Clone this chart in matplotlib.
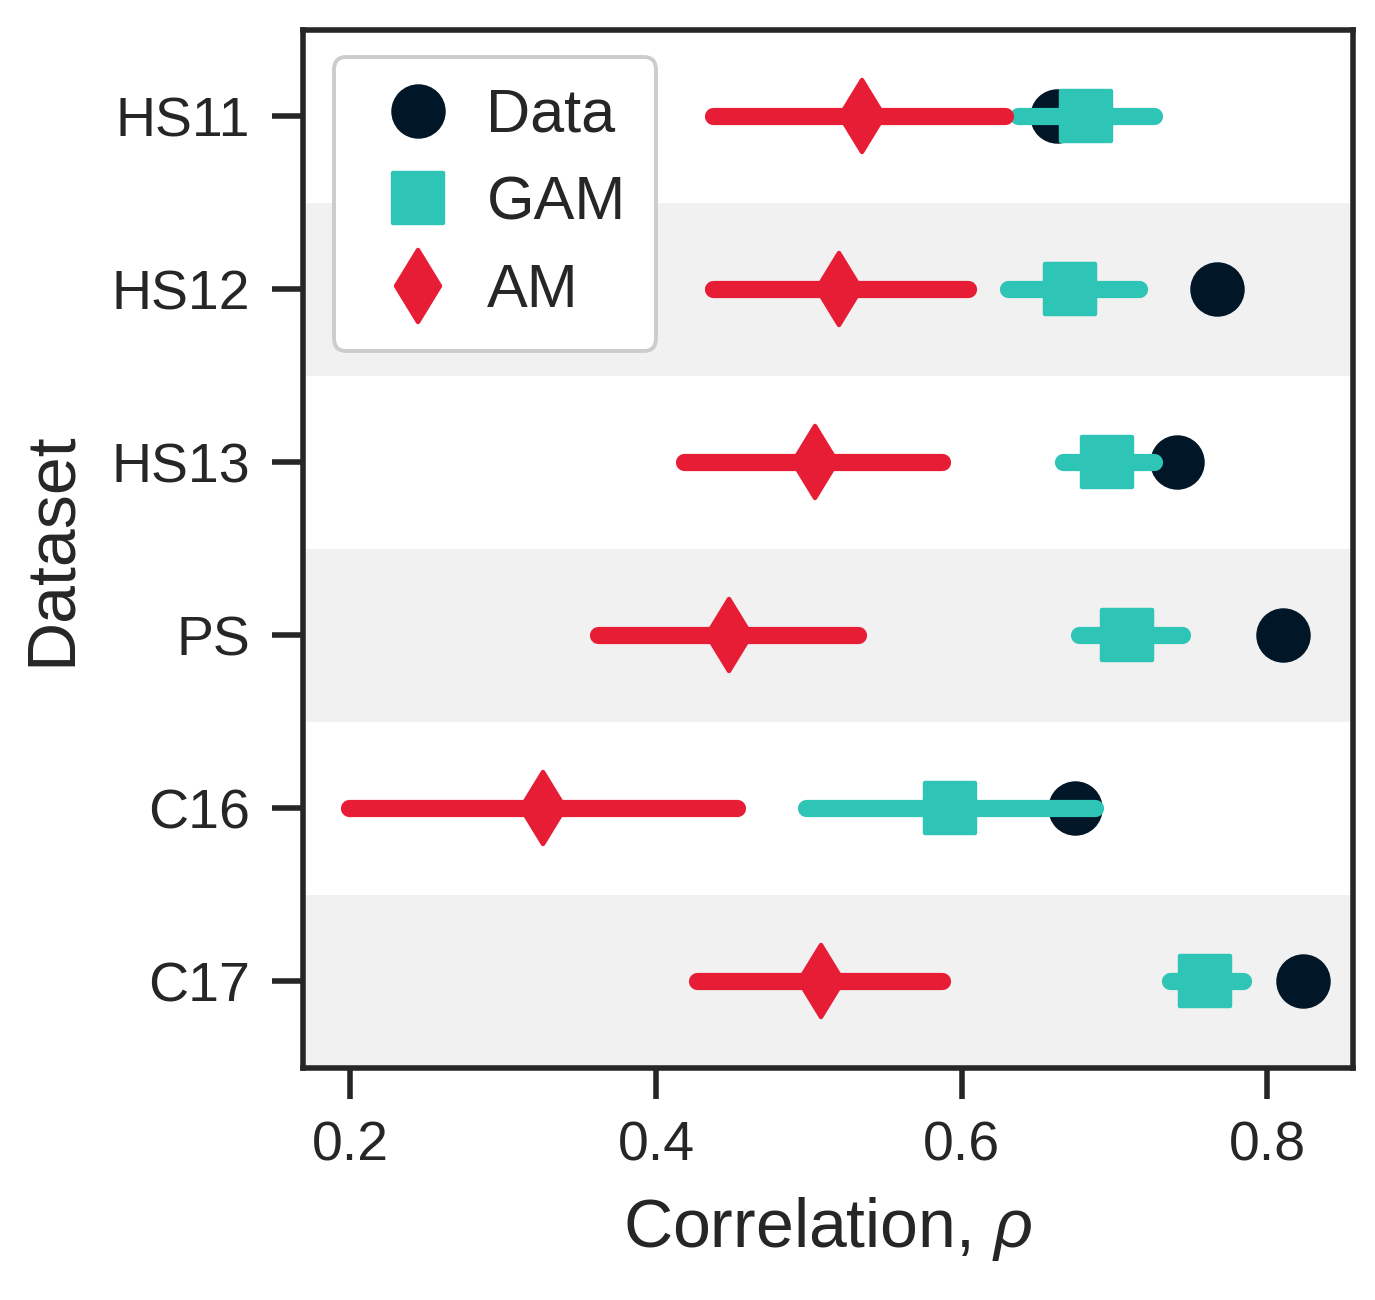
import matplotlib
matplotlib.use("Agg")
import matplotlib.pyplot as plt
from matplotlib.lines import Line2D
from matplotlib.markers import MarkerStyle
import numpy as np

datasets = ["HS11", "HS12", "HS13", "PS", "C16", "C17"]
data_rho = [0.662, 0.767, 0.741, 0.810, 0.674, 0.823]
gam_rho = [0.681, 0.671, 0.695, 0.708, 0.592, 0.759]
gam_lo = [0.637, 0.630, 0.666, 0.677, 0.498, 0.736]
gam_hi = [0.726, 0.716, 0.726, 0.744, 0.687, 0.784]
am_rho = [0.535, 0.520, 0.504, 0.448, 0.326, 0.508]
am_lo = [0.437, 0.437, 0.418, 0.362, 0.199, 0.427]
am_hi = [0.628, 0.604, 0.587, 0.532, 0.453, 0.587]
xticks = [0.2, 0.4, 0.6, 0.8]

C_DATA = "#011627"
C_GAM = "#2EC4B6"
C_AM = "#E71D36"
TXT = "#262626"

plt.rcParams["font.family"] = ["Liberation Sans", "DejaVu Sans"]
plt.rcParams["mathtext.fontset"] = "custom"
plt.rcParams["mathtext.it"] = "Liberation Sans:italic"
plt.rcParams["mathtext.rm"] = "Liberation Sans"

fig = plt.figure(figsize=(6.875, 6.5), dpi=200)
ax = fig.add_axes([0.2204, 0.1785, 0.7636, 0.7985])

y = np.arange(len(datasets))
for i in y:
    if i % 2 == 1:
        ax.axhspan(i - 0.5, i + 0.5, color="#f1f1f1", zorder=0, lw=0)

ms = 18
mew = 1.6
lw = 6.2

def mk(m):
    return MarkerStyle(m, joinstyle="round")

ax.plot(data_rho, y, ls="none", marker=mk("o"), ms=ms, mfc=C_DATA, mec=C_DATA, mew=mew, zorder=3)
for i in y:
    ax.plot([gam_lo[i], gam_hi[i]], [i, i], color=C_GAM, lw=lw,
            solid_capstyle="round", zorder=4)
    ax.plot([am_lo[i], am_hi[i]], [i, i], color=C_AM, lw=lw,
            solid_capstyle="round", zorder=4)
ax.plot(gam_rho, y, ls="none", marker=mk("s"), ms=ms, mfc=C_GAM, mec=C_GAM, mew=mew, zorder=5)
ax.plot(am_rho, y, ls="none", marker=mk("d"), ms=ms + 0.5, mfc=C_AM, mec=C_AM, mew=mew, zorder=5)

ax.set_xlim(0.169, 0.856)
ax.set_ylim(5.5, -0.5)
ax.set_yticks(y)
ax.set_yticklabels(datasets)
ax.set_xticks(xticks)
ax.set_xticklabels([f"{v:.1f}" for v in xticks])

for s in ax.spines.values():
    s.set_linewidth(2.0)
    s.set_color(TXT)
ax.tick_params(axis="both", length=11, width=2.0, color=TXT,
               labelsize=20, labelcolor=TXT, pad=8)

ax.set_xlabel(r"Correlation, $\rho$", fontsize=24.5, color=TXT, labelpad=8)
ax.set_ylabel("Dataset", fontsize=24.5, color=TXT, labelpad=10)

handles = [
    Line2D([], [], ls="none", marker=mk("o"), ms=ms, mfc=C_DATA, mec=C_DATA, mew=mew),
    Line2D([], [], ls="none", marker=mk("s"), ms=ms, mfc=C_GAM, mec=C_GAM, mew=mew),
    Line2D([], [], ls="none", marker=mk("d"), ms=ms + 0.5, mfc=C_AM, mec=C_AM, mew=mew),
]
leg = ax.legend(handles, ["Data", "GAM", "AM"], loc="upper left",
                bbox_to_anchor=(0.003, 1.0), fontsize=22, frameon=True,
                fancybox=True, framealpha=1, edgecolor="#cccccc",
                handletextpad=0.25, labelspacing=0.5, borderpad=0.5,
                handlelength=1.75, borderaxespad=0.45)
leg.get_frame().set_linewidth(1.4)
for t in leg.get_texts():
    t.set_color(TXT)

fig.savefig("out.png", dpi=200)
